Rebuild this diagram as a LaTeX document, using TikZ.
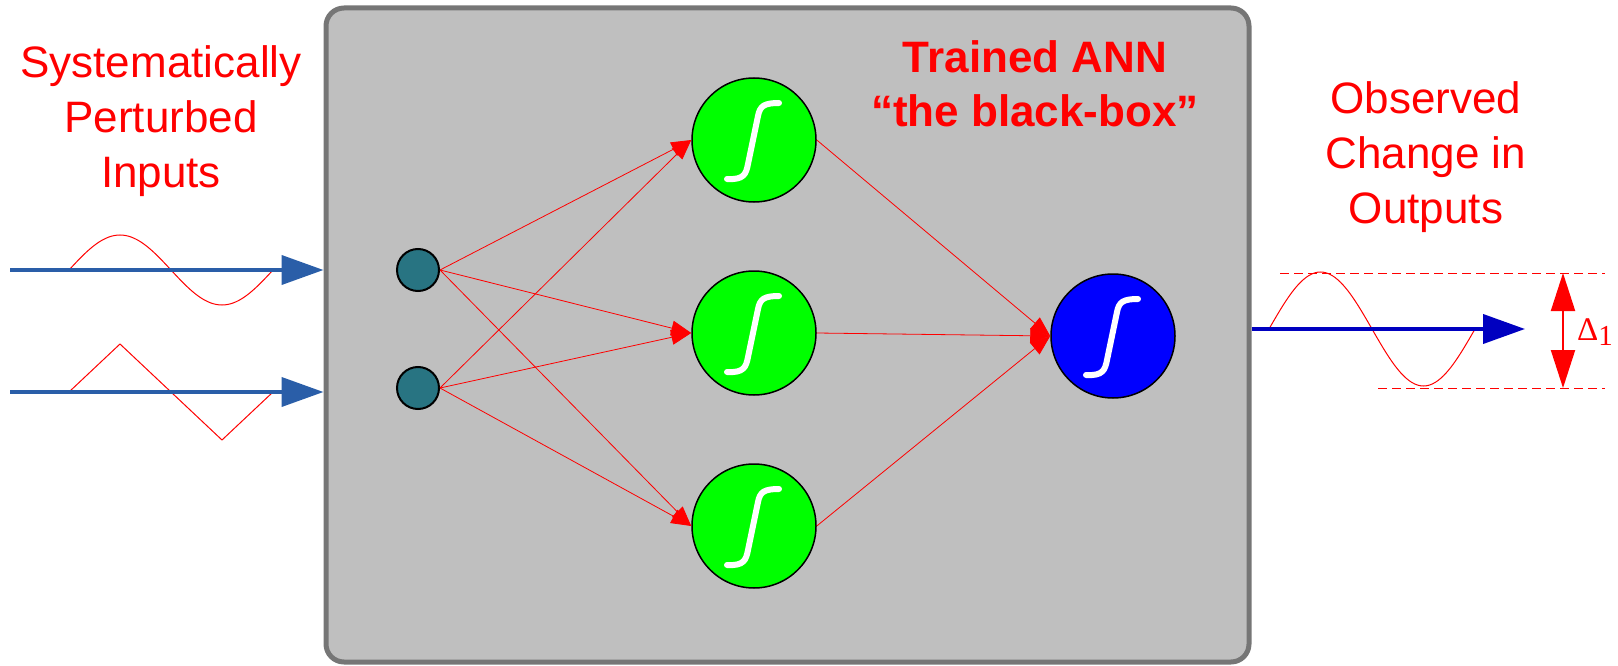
\documentclass[tikz,border=0pt]{standalone}
\usepackage{fontspec}
\setmainfont{Liberation Sans}
\newfontfamily\serifont{Liberation Serif}
\usetikzlibrary{positioning}
\usetikzlibrary{arrows.meta}

\definecolor{boxgray}{HTML}{BFBFBF}
\definecolor{boxedge}{HTML}{767676}
\definecolor{inteal}{HTML}{287482}
\definecolor{inblue}{HTML}{2A5EA8}
\definecolor{outblue}{HTML}{0000C0}

\begin{document}
\begin{tikzpicture}[x=1pt, y=-1pt]
  \tikzstyle{blackbox}=[rectangle, rounded corners=18pt, draw=boxedge, fill=boxgray, line width=5pt, minimum width=923pt, minimum height=654pt, inner sep=0pt]
  \tikzstyle{inneuron}=[circle, minimum size=42pt, inner sep=0pt, draw=black, line width=2pt, fill=inteal]
  \tikzstyle{hidneuron}=[circle, minimum size=124pt, inner sep=0pt, draw=black, line width=1.5pt, fill=green, node distance=193pt]
  \tikzstyle{outneuron}=[hidneuron, fill=blue]
  \tikzstyle{connect}=[-{Triangle[length=20pt, width=15pt]}, red, line width=0.8pt]
  \tikzstyle{sigarrow}=[-{Triangle[length=42pt, width=29pt]}, line width=4pt]
  \tikzstyle{wave}=[red, line width=1pt]
  \tikzstyle{sigmoid}=[white, line width=6pt, line cap=round]
  \tikzstyle{redtext}=[red, align=center, inner sep=0pt]

  \useasboundingbox (0,0) rectangle (1618,666);

  \node[blackbox] (bb) at (787.5,335) { };

  \node[inneuron] (i1) at (418,270) { };
  \node[inneuron] (i2) at (418,388) { };
  \node[hidneuron] (h1) at (754,140) { };
  \node[hidneuron] (h2) [below of = h1] { };
  \node[hidneuron] (h3) [below of = h2] { };
  \node[outneuron] (out) at (1113,336) { };

  \foreach \n in {h1,h2,h3,out}
    \draw[sigmoid, shift={(\n.center)}] (-27,39) .. controls (-10,40) and (-8,34) .. (-6,24)
      -- (4,-24) .. controls (6,-34) and (10,-37) .. (25,-37);

  \path (i1.east) edge [connect] (h1.west)
        (i1.east) edge [connect] (h2.west)
        (i1.east) edge [connect] (h3.west)
        (i2.east) edge [connect] (h1.west)
        (i2.east) edge [connect] (h2.west)
        (i2.east) edge [connect] (h3.west);

  \path (h1.east) edge [connect] (out.west)
        (h2.east) edge [connect] (out.west)
        (h3.east) edge [connect] (out.west);

  % perturbed inputs
  \draw[wave] plot[domain=0:360, samples=73, smooth] ({69+0.5667*\x}, {270-35*sin(\x)});
  \draw[wave] (69,392) -- (120,344) -- (222,440) -- (273,392);
  \coordinate (s1) at (10,270);
  \coordinate (s2) at (10,392);
  \draw[sigarrow, inblue] (s1) -- (bb.west |- s1);
  \draw[sigarrow, inblue] (s2) -- (bb.west |- s2);

  % observed output
  \draw[wave] plot[domain=0:360, samples=73, smooth] ({1269+0.5722*\x}, {329-57*sin(\x)});
  \coordinate (e1) at (1525,329);
  \draw[sigarrow, outblue] (bb.east |- e1) -- (e1);

  \coordinate (dt1) at (1280,273);
  \coordinate (dt2) at (1605,273);
  \coordinate (db1) at (1378,388);
  \coordinate (db2) at (1605,388);
  \draw[red, line width=1pt, dash pattern=on 9pt off 5pt] (dt1) -- (dt2);
  \draw[red, line width=1pt, dash pattern=on 9pt off 5pt] (db1) -- (db2);
  \coordinate (da) at (1563,273);
  \coordinate (db) at (1563,388);
  \draw[{Triangle[length=38pt, width=24pt]}-{Triangle[length=38pt, width=24pt]}, red, line width=2pt] (da) -- (db);
  \node[red, anchor=base west, inner sep=0pt, font=\serifont\fontsize{33}{33}\selectfont] (dlabel) at (1577,340) {Δ\raisebox{-5pt}{\fontsize{29}{29}\selectfont 1}};

  \node[redtext, font=\fontsize{44}{55}\selectfont] (inlabel) at (161,121) {Systematically\\Perturbed\\Inputs};
  \node[redtext, font=\fontsize{44}{55}\selectfont] (outlabel) at (1426,157) {Observed\\Change in\\Outputs};
  \node[redtext, font=\bfseries\fontsize{44}{54}\selectfont] (title) at (1035,84) {Trained ANN\\“the black-box”};

\end{tikzpicture}
\end{document}
